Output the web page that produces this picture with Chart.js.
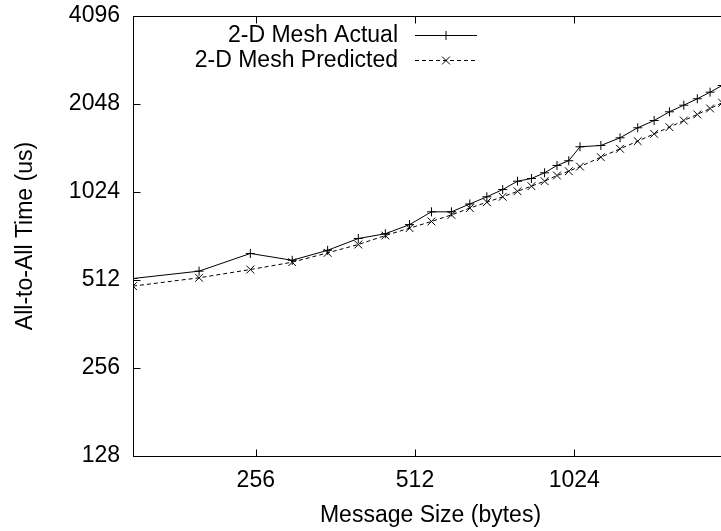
<!DOCTYPE html>
<html>
<head>
<meta charset="utf-8">
<script src="https://cdn.jsdelivr.net/npm/chart.js@4/dist/chart.umd.min.js"></script>
<style>
html,body{margin:0;padding:0;overflow:hidden;background:#fff;width:721px;height:531px}
canvas{display:block}
</style>
</head>
<body>
<canvas id="c" width="740" height="531"></canvas>
<script>
// ---- data ----
const messageSizes = [150,200,250,300,350,400,450,500,550,600,650,700,750,800,850,900,950,1000,1050,1150,1250,1350,1450,1550,1650,1750,1850,1950];
const actualTimes = [518,549,631,598,647,710,737,792,876,876,932,986,1044,1115,1139,1191,1262,1310,1462,1477,1569,1698,1798,1926,2029,2134,2248,2369];
const predictedTimes = [488,521,556,589,634,677,727,770,812,855,902,945,986,1030,1072,1115,1166,1206,1251,1347,1439,1528,1619,1706,1798,1886,1977,2068];
const xTickValues = [256,512,1024];
const yTickValues = [128,256,512,1024,2048,4096];
const seriesLabels = ['2-D Mesh Actual','2-D Mesh Predicted'];
const xTitle = 'Message Size (bytes)';
const yTitle = 'All-to-All Time (us)';

const FONT = '"Liberation Sans", Arial, Helvetica, sans-serif';
const FS = 23;

function toPoints(xs, ys){ return xs.map((x,i)=>({x:x, y:ys[i]})); }

function drawMarker(ctx, style, r, x, y){
  ctx.beginPath();
  if(style==='cross'){
    ctx.moveTo(x-r,y); ctx.lineTo(x+r,y);
    ctx.moveTo(x,y-r); ctx.lineTo(x,y+r);
  } else {
    const d = r*Math.SQRT1_2;
    ctx.moveTo(x-d,y-d); ctx.lineTo(x+d,y+d);
    ctx.moveTo(x-d,y+d); ctx.lineTo(x+d,y-d);
  }
  ctx.stroke();
}

const framePlugin = {
  id:'frame',
  afterDatasetsDraw(chart){
    const {ctx, chartArea:a, scales} = chart;
    const xs = scales.x, ys = scales.y;
    const L = Math.round(a.left)+0.5, R = Math.round(a.right)+0.5, T = Math.round(a.top)+0.5, B = Math.round(a.bottom)+0.5;
    ctx.save();
    ctx.strokeStyle = '#000';
    ctx.lineWidth = 1;
    ctx.setLineDash([]);
    ctx.strokeRect(L, T, R-L, B-T);
    const tl = 7;
    ctx.beginPath();
    xTickValues.forEach(v=>{
      const px = Math.round(xs.getPixelForValue(v))+0.5;
      ctx.moveTo(px,B); ctx.lineTo(px,B-tl);
      ctx.moveTo(px,T); ctx.lineTo(px,T+tl);
    });
    yTickValues.forEach(v=>{
      const py = Math.round(ys.getPixelForValue(v))+0.5;
      ctx.moveTo(L,py); ctx.lineTo(L+tl,py);
      ctx.moveTo(R,py); ctx.lineTo(R-tl,py);
    });
    ctx.stroke();

    // key
    ctx.font = FS + 'px ' + FONT;
    ctx.fillStyle = '#000';
    ctx.textAlign = 'right';
    ctx.textBaseline = 'middle';
    const rows = [35, 60];
    chart.data.datasets.forEach((ds,i)=>{
      const yy = rows[i];
      ctx.fillText(ds.label, 398, yy+1);
      ctx.setLineDash(ds.borderDash || []);
      ctx.beginPath();
      ctx.moveTo(415, yy+0.5); ctx.lineTo(477, yy+0.5);
      ctx.stroke();
      ctx.setLineDash([]);
      drawMarker(ctx, ds.pointStyle, ds.pointRadius, 446, yy+0.5);
    });
    ctx.restore();
  }
};

new Chart(document.getElementById('c'), {
  type:'line',
  data:{
    datasets:[
      {label:seriesLabels[0], data:toPoints(messageSizes, actualTimes),
       borderColor:'#000', borderWidth:1, backgroundColor:'#000',
       pointStyle:'cross', pointRadius:4.5, pointBorderWidth:1, pointBorderColor:'#000', tension:0},
      {label:seriesLabels[1], data:toPoints(messageSizes, predictedTimes),
       borderColor:'#000', borderWidth:1, borderDash:[4,3], backgroundColor:'#000',
       pointStyle:'crossRot', pointRadius:5.5, pointBorderWidth:1, pointBorderColor:'#000', tension:0}
    ]
  },
  options:{
    responsive:false, animation:false, devicePixelRatio:1,
    layout:{padding:{top:16, right:12, bottom:0, left:0}},
    plugins:{legend:{display:false}, tooltip:{enabled:false}},
    scales:{
      x:{
        type:'logarithmic', position:'bottom', min:150, max:2000,
        afterBuildTicks:(s)=>{ s.ticks = xTickValues.map(v=>({value:v})); },
        afterFit:(s)=>{ s.height = 75; s.paddingLeft = 0; s.paddingRight = 0; },
        grid:{display:false, drawTicks:false}, border:{display:false},
        ticks:{color:'#000', font:{family:FONT, size:FS}, padding:11, maxRotation:0, autoSkip:false, callback:(v)=>String(v)},
        title:{display:true, text:xTitle, color:'#000', font:{family:FONT, size:FS}, padding:{top:0, bottom:2}}
      },
      y:{
        type:'logarithmic', position:'left', min:128, max:4096,
        afterBuildTicks:(s)=>{ s.ticks = yTickValues.map(v=>({value:v})); },
        afterFit:(s)=>{ s.width = 133; s.paddingTop = 0; s.paddingBottom = 0; },
        grid:{display:false, drawTicks:false}, border:{display:false},
        ticks:{color:'#000', font:{family:FONT, size:FS}, padding:13, autoSkip:false, callback:(v)=>String(v)},
        title:{display:true, text:yTitle, color:'#000', font:{family:FONT, size:FS}, padding:{top:12, bottom:0}}
      }
    }
  },
  plugins:[framePlugin]
});
</script>
</body>
</html>
